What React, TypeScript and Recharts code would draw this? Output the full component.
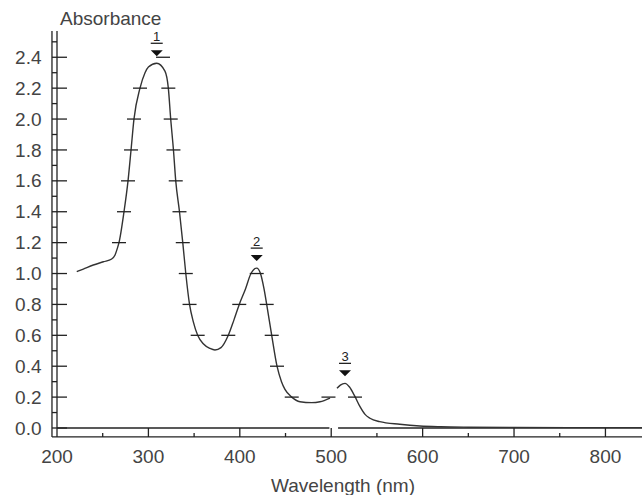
import { ComposedChart, Line, Scatter, XAxis, YAxis, ReferenceLine } from "recharts";

// absorbance spectrum
const WAVELENGTHS = [
  221.6, 228.8, 239.7, 250.7, 259.8, 263.5, 266, 267.8, 273.3, 277.7, 281, 284.2, 290.8, 296.3,
  300, 309.1, 318.1, 321.8, 324.4, 327.4, 329.9, 334, 337.6, 340.9, 345, 349, 353.9, 360,
  367.4, 372.8, 379.4, 387.4, 393.6, 399.4, 406.2, 412.2, 418.5, 422.6, 426.5, 429.4, 434.9,
  440.7, 445.6, 449.4, 456.8, 465.8, 478.6, 487.7, 498.7, 502, 506.3, 510, 515.1, 520, 526,
  531.5, 537, 542.4, 553, 575, 597, 620, 650, 700, 760, 840,
];
const ABSORBANCE = [
  1.012, 1.029, 1.055, 1.076, 1.094, 1.12, 1.163, 1.2, 1.4, 1.6, 1.8, 2.0, 2.2, 2.3,
  2.337, 2.361, 2.31, 2.2, 2.0, 1.8, 1.6, 1.4, 1.2, 1.0, 0.8, 0.69, 0.6, 0.545,
  0.515, 0.505, 0.52, 0.6, 0.7, 0.8, 0.9, 1.0, 1.035, 1.0, 0.9, 0.8, 0.6,
  0.4, 0.3, 0.25, 0.2, 0.17, 0.164, 0.17, 0.194, null, 0.257, 0.278, 0.289, 0.265, 0.203,
  0.138, 0.088, 0.063, 0.041, 0.024, 0.013, 0.008, 0.005, 0.003, 0.002, 0.002,
];

// short horizontal marks where the trace crosses the 0.2 levels
const MARK_NM = [
  267.8, 273.3, 277.7, 281, 284.2, 290.8, 316, 321.8, 324.4, 327.4, 329.9, 334, 337.6, 340.9,
  345, 353.9, 387.4, 399.4, 418.5, 429.4, 434.9, 440.7, 456.8, 497, 526,
];
const MARK_ABS = [
  1.2, 1.4, 1.6, 1.8, 2.0, 2.2, 2.4, 2.2, 2.0, 1.8, 1.6, 1.4, 1.2, 1.0,
  0.8, 0.6, 0.6, 0.8, 1.0, 0.8, 0.6, 0.4, 0.2, 0.2, 0.2,
];

const PEAK_NM = [309.1, 418.5, 515.1];
const PEAK_ABS = [2.361, 1.035, 0.289];
const PEAK_LABELS = ["1", "2", "3"];

const X_TICKS = [200, 250, 300, 350, 400, 450, 500, 550, 600, 650, 700, 750, 800];
const Y_TICKS = [
  0, 0.1, 0.2, 0.3, 0.4, 0.5, 0.6, 0.7, 0.8, 0.9, 1.0, 1.1, 1.2, 1.3, 1.4, 1.5, 1.6, 1.7, 1.8,
  1.9, 2.0, 2.1, 2.2, 2.3, 2.4, 2.5,
];

const curve = WAVELENGTHS.map((nm, i) => ({ nm, a: ABSORBANCE[i] }));
const marks = MARK_NM.map((nm, i) => ({ nm, a: MARK_ABS[i] }));
const peaks = PEAK_NM.map((nm, i) => ({ nm, a: PEAK_ABS[i], label: PEAK_LABELS[i] }));

const FONT = "'Liberation Sans', Arial, sans-serif";
const INK = "#222";
const TEXT = "#444";

function XTick({ x, y, payload }: any) {
  const v = payload.value;
  const major = v % 100 === 0;
  return (
    <g>
      <line x1={x} x2={x} y1={major ? y : y + 5} y2={y + 9} stroke={INK} strokeWidth={1.3} />
      {major && (
        <text x={x} y={y + 35} textAnchor="middle" fontSize={19} fontFamily={FONT} fill={TEXT}>
          {v}
        </text>
      )}
    </g>
  );
}

function YTick({ x, y, payload }: any) {
  const v = payload.value;
  const major = Math.round(v * 10) % 2 === 0;
  return (
    <g>
      <line x1={x - 5} x2={major ? x + 10 : x} y1={y} y2={y} stroke={INK} strokeWidth={1.3} />
      {major && (
        <text x={x - 15.5} y={y} dy="0.35em" textAnchor="end" fontSize={19} fontFamily={FONT} fill={TEXT}>
          {v.toFixed(1)}
        </text>
      )}
    </g>
  );
}

function Dash({ cx, cy }: any) {
  return <line x1={cx - 7} x2={cx + 7} y1={cy} y2={cy} stroke={INK} strokeWidth={1.3} />;
}

function PeakMark({ cx, cy, payload }: any) {
  return (
    <g>
      <text x={cx} y={cy - 22} textAnchor="middle" fontSize={13} fontFamily={FONT} fill={INK}>
        {payload.label}
      </text>
      <line x1={cx - 6} x2={cx + 6} y1={cy - 20} y2={cy - 20} stroke={INK} strokeWidth={1.3} />
      <polygon points={`${cx - 6},${cy - 13} ${cx + 6},${cy - 13} ${cx},${cy - 7}`} fill="#111" />
    </g>
  );
}

export default function App() {
  return (
    <div style={{ position: "absolute", left: 0, top: 0, width: 642, height: 495, background: "#fff" }}>
      <ComposedChart width={642} height={495} margin={{ top: 31, right: 0, bottom: 0, left: 0 }}>
        <XAxis
          type="number"
          dataKey="nm"
          domain={[200, 840]}
          ticks={X_TICKS}
          allowDataOverflow
          axisLine={false}
          tickLine={false}
          tickSize={0}
          tickMargin={0}
          height={67}
          tick={<XTick />}
          interval={0}
        />
        <YAxis
          type="number"
          dataKey="a"
          domain={[0, 2.57]}
          ticks={Y_TICKS}
          allowDataOverflow
          axisLine={{ stroke: INK, strokeWidth: 1.3 }}
          tickLine={false}
          tickSize={0}
          tickMargin={0}
          width={57}
          tick={<YTick />}
          interval={0}
        />
        {/* double-line frame like the instrument printout, with the break near 500 nm */}
        <ReferenceLine segment={[{ x: 200, y: 0 }, { x: 498, y: 0 }]} stroke={INK} strokeWidth={1.3} ifOverflow="visible" />
        <ReferenceLine segment={[{ x: 507.5, y: 0 }, { x: 840, y: 0 }]} stroke={INK} strokeWidth={1.3} ifOverflow="visible" />
        <ReferenceLine segment={[{ x: 194.5, y: -0.058 }, { x: 840, y: -0.058 }]} stroke={INK} strokeWidth={1.3} ifOverflow="visible" />
        <ReferenceLine segment={[{ x: 194.5, y: -0.058 }, { x: 194.5, y: 2.57 }]} stroke={INK} strokeWidth={1.3} ifOverflow="visible" />
        <Line
          data={curve}
          dataKey="a"
          type="monotone"
          stroke="#333"
          strokeWidth={1.4}
          dot={false}
          activeDot={false}
          connectNulls={false}
          isAnimationActive={false}
        />
        <Scatter data={marks} dataKey="a" shape={<Dash />} isAnimationActive={false} />
        <Scatter data={peaks} dataKey="a" shape={<PeakMark />} isAnimationActive={false} />
      </ComposedChart>
      <svg width={642} height={495} style={{ position: "absolute", left: 0, top: 0, pointerEvents: "none" }}>
        <text x={60} y={25} fontSize={19} fontFamily={FONT} fill={TEXT}>
          Absorbance
        </text>
        <text x={343} y={492} textAnchor="middle" fontSize={19} fontFamily={FONT} fill={TEXT}>
          Wavelength (nm)
        </text>
      </svg>
    </div>
  );
}
